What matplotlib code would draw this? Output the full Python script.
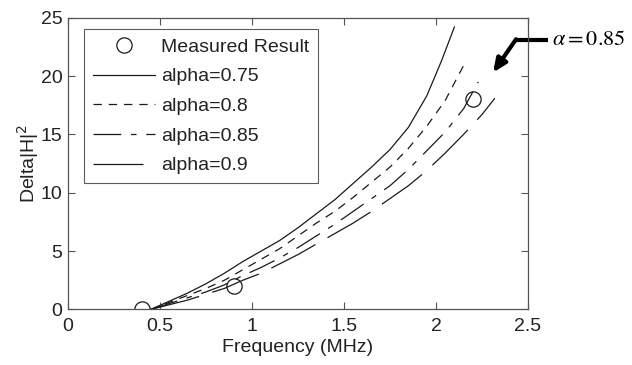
import numpy as np
import matplotlib
matplotlib.use("Agg")
import matplotlib.pyplot as plt

plt.rcParams['font.family'] = ['Liberation Sans', 'DejaVu Sans']
plt.rcParams['lines.scale_dashes'] = False

# measured points
meas_f = [0.4, 0.9, 2.2]
meas_h = [0.0, 2.0, 18.0]

# simulated curves
f_075 = [0.45, 0.55, 0.65, 0.75, 0.85, 0.95, 1.05, 1.15, 1.25, 1.35, 1.45, 1.55, 1.65, 1.75, 1.85, 1.95, 2.03, 2.1]
h_075 = [0.0, 0.7, 1.4, 2.2, 3.1, 4.1, 5.0, 5.9, 7.0, 8.2, 9.4, 10.8, 12.2, 13.7, 15.6, 18.3, 21.3, 24.2]

f_080 = [0.45, 0.55, 0.65, 0.75, 0.85, 0.95, 1.05, 1.15, 1.25, 1.35, 1.45, 1.55, 1.65, 1.75, 1.85, 1.95, 2.05, 2.16]
h_080 = [0.0, 0.6, 1.2, 1.8, 2.5, 3.4, 4.3, 5.2, 6.3, 7.4, 8.4, 9.6, 10.9, 12.2, 13.8, 15.7, 17.9, 21.2]

f_085 = [0.45, 0.55, 0.65, 0.75, 0.85, 0.95, 1.05, 1.15, 1.25, 1.35, 1.45, 1.55, 1.65, 1.75, 1.85, 1.95, 2.05, 2.15, 2.23]
h_085 = [0.0, 0.5, 1.0, 1.5, 2.1, 2.9, 3.6, 4.4, 5.3, 6.3, 7.3, 8.4, 9.5, 10.6, 12.0, 13.6, 15.2, 17.2, 19.5]

f_090 = [0.45, 0.55, 0.65, 0.75, 0.85, 0.95, 1.05, 1.15, 1.25, 1.35, 1.45, 1.55, 1.65, 1.75, 1.85, 1.95, 2.05, 2.15, 2.25, 2.32]
h_090 = [0.0, 0.4, 0.8, 1.3, 1.8, 2.5, 3.1, 3.9, 4.7, 5.6, 6.5, 7.4, 8.4, 9.5, 10.6, 11.9, 13.4, 15.0, 16.7, 18.1]

xticks = [0, 0.5, 1, 1.5, 2, 2.5]
xtick_labels = ["0", "0.5", "1", "1.5", "2", "2.5"]
yticks = [0, 5, 10, 15, 20, 25]

txt = '#222222'
lc = '#1a1a1a'
fs = 14

fig = plt.figure(figsize=(6.32, 3.65), dpi=100)
ax = fig.add_axes([0.1076, 0.1523, 0.7278, 0.7992])

ax.plot(meas_f, meas_h, 'o', ms=11, mfc='none', mec=lc, mew=0.9, label='Measured Result')
ax.plot(f_075, h_075, color=lc, lw=0.9, ls='-', label='alpha=0.75')
ax.plot(f_080, h_080, color=lc, lw=0.9, ls=(0, (6, 5)), label='alpha=0.8')
ax.plot(f_085, h_085, color=lc, lw=0.9, ls=(0, (20, 7, 4, 7)), label='alpha=0.85')
ax.plot(f_090, h_090, color=lc, lw=0.9, ls=(0, (36, 10)), label='alpha=0.9')

ax.set_xlim(0, 2.5)
ax.set_ylim(0, 25)
ax.set_xticks(xticks)
ax.set_xticklabels(xtick_labels)
ax.set_yticks(yticks)
ax.tick_params(direction='in', length=5, width=0.8, top=True, right=True,
               labelsize=fs, colors='#555555', labelcolor=txt)
ax.tick_params(axis='x', pad=6)
ax.tick_params(axis='y', pad=4)
for s in ax.spines.values():
    s.set_color('#555555')
    s.set_linewidth(0.9)

ax.set_xlabel('Frequency (MHz)', fontsize=fs, color=txt, labelpad=3)
ax.set_ylabel('Delta|H|$^2$', fontsize=fs, color=txt, labelpad=0)

leg = ax.legend(loc='upper left', bbox_to_anchor=(0.035, 0.96), fontsize=fs,
                frameon=True, fancybox=False, edgecolor='#333333',
                handlelength=3.2, handletextpad=0.3, labelspacing=0.62,
                borderpad=0.45, borderaxespad=0)
leg.get_frame().set_linewidth(0.8)
for t in leg.get_texts():
    t.set_color(txt)

# arrow pointing at the alpha=0.85 curve
ax.plot([2.61, 2.43], [23.1, 23.1], color='black', lw=3, clip_on=False,
        solid_capstyle='butt')
ax.annotate('', xy=(2.31, 20.3), xytext=(2.435, 23.15),
            arrowprops=dict(arrowstyle='-|>,head_length=0.8,head_width=0.35',
                            color='black', lw=3, shrinkA=0, shrinkB=0),
            annotation_clip=False)
ax.text(2.63, 23.1, r'$\alpha=0.85$', fontsize=16, math_fontfamily='stix',
        ha='left', va='center', color='black', clip_on=False)

fig.savefig('out.png', dpi=100)
